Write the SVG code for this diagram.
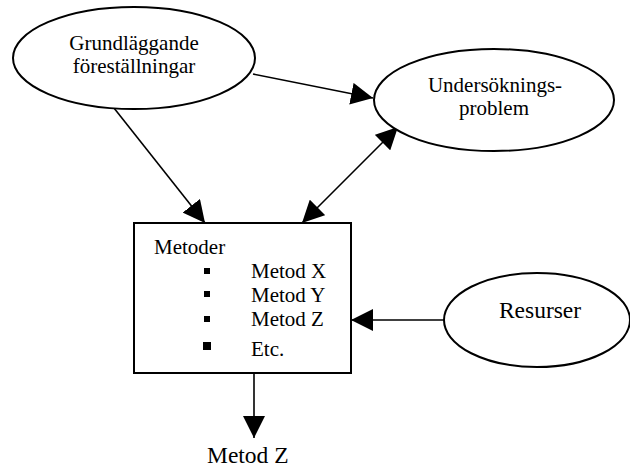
<svg xmlns="http://www.w3.org/2000/svg" width="630" height="468" viewBox="0 0 630 468">
  <style>
    .shape { fill: #ffffff; stroke: #000000; stroke-width: 2; }
    .edge { fill: none; stroke: #000000; stroke-width: 1.6; }
    .t { font-family: "Liberation Serif", "Times New Roman", serif; fill: #000000; }
    .s { font-size: 21px; }
    .l { font-size: 23.5px; }
    .c { text-anchor: middle; }
    .bullet { fill: #000000; }
  </style>
  <defs>
    <marker id="head" markerUnits="userSpaceOnUse" markerWidth="22" markerHeight="22" refX="20" refY="10" orient="auto-start-reverse" viewBox="0 0 20 20">
      <path d="M0,0 L20,10 L0,20 z" fill="#000000"/>
    </marker>
  </defs>
  <rect width="630" height="468" fill="#ffffff"/>

  <g id="connectors">
    <line class="edge" x1="110" y1="103" x2="205" y2="223" marker-end="url(#head)"/>
    <line class="edge" x1="253" y1="74" x2="373" y2="98" marker-end="url(#head)"/>
    <line class="edge" x1="302" y1="223" x2="398" y2="127" marker-start="url(#head)" marker-end="url(#head)"/>
    <line class="edge" x1="444" y1="320" x2="351" y2="320" marker-end="url(#head)"/>
    <line class="edge" x1="254" y1="373" x2="254" y2="438" marker-end="url(#head)"/>
  </g>

  <g id="grundlaggande">
    <ellipse class="shape" cx="134" cy="58" rx="121" ry="51"/>
    <text class="t s c" x="134" y="50">Grundläggande</text>
    <text class="t s c" x="134" y="73">föreställningar</text>
  </g>

  <g id="undersokningsproblem">
    <ellipse class="shape" cx="494" cy="100" rx="120" ry="51"/>
    <text class="t s c" x="495" y="92">Undersöknings-</text>
    <text class="t s c" x="494" y="115">problem</text>
  </g>

  <g id="metoder">
    <rect class="shape" x="134" y="223" width="217" height="150"/>
    <text class="t s" x="154" y="254">Metoder</text>
    <rect class="bullet" x="204" y="268" width="6" height="6"/>
    <rect class="bullet" x="204" y="291" width="6" height="6"/>
    <rect class="bullet" x="204" y="316" width="6" height="6"/>
    <rect class="bullet" x="203" y="342" width="8" height="8"/>
    <text class="t s" x="251" y="278">Metod X</text>
    <text class="t s" x="251" y="302">Metod Y</text>
    <text class="t s" x="251" y="326">Metod Z</text>
    <text class="t s" x="251" y="356">Etc.</text>
  </g>

  <g id="resurser">
    <ellipse class="shape" cx="537" cy="320" rx="93" ry="47"/>
    <text class="t l c" x="540" y="318">Resurser</text>
  </g>

  <g id="metod-z">
    <text class="t l" x="207" y="463">Metod Z</text>
  </g>
</svg>
